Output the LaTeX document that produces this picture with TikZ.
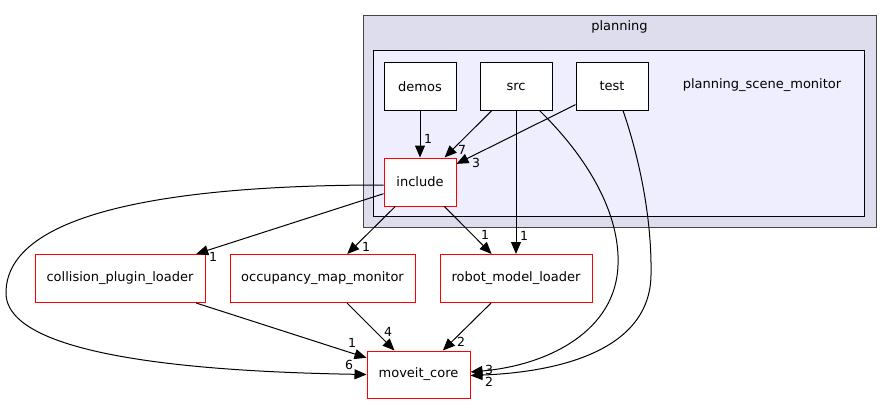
\documentclass[tikz,border=0pt]{standalone}
\usepackage{fontspec}
\setmainfont{DejaVu Sans}
\usetikzlibrary{arrows.meta,calc}
\definecolor{outerfill}{HTML}{DDDDEE}
\definecolor{outerline}{HTML}{444444}
\definecolor{innerfill}{HTML}{EEEEFF}
\begin{document}
\begin{tikzpicture}[x=1pt,y=-1pt,
  every node/.style={font=\fontsize{13}{15}\selectfont},
  cluster/.style={inner sep=0pt, line width=1pt},
  box/.style={draw=black, fill=white, minimum width=72pt, minimum height=47pt, inner sep=0pt, line width=1pt},
  redbox/.style={draw=red, fill=white, minimum height=48pt, inner sep=0pt, line width=1pt},
  edge/.style={-{Triangle[length=12pt,width=10pt]}, line width=1pt},
  lbl/.style={font=\fontsize{12.5}{14}\selectfont, inner sep=0pt},
  txt/.style={inner sep=0pt}]
\useasboundingbox (0,0) rectangle (891,404);

% clusters
\node[cluster, draw=outerline, fill=outerfill, minimum width=513pt, minimum height=211pt] (planning) at (619.5,121.5) {};
\node[txt] (planninglbl) at (619.5,27) {planning};
\node[cluster, draw=black, fill=innerfill, minimum width=491pt, minimum height=165pt] (psm) at (618.5,133.5) {};
\node[txt] (psmlbl) at (762,85) {planning\_scene\_monitor};

% nodes
\node[box] (demos) at (420,86.5) {demos};
\node[box] (src) at (516,86.5) {src};
\node[box] (test) at (612,86.5) {test};
\node[redbox, minimum width=72pt] (include) at (420,182) {include};
\node[redbox, minimum width=170pt] (collision) at (120,278.5) {collision\_plugin\_loader};
\node[redbox, minimum width=185pt] (occupancy) at (322.5,278.5) {occupancy\_map\_monitor};
\node[redbox, minimum width=152pt] (robot) at (516,278.5) {robot\_model\_loader};
\node[redbox, minimum width=103pt, minimum height=47pt] (moveit) at (418.5,374.5) {moveit\_core};

% straight edges
\draw[edge] (demos) -- (include);
\draw[edge] (src) -- (include);
\draw[edge] (test) -- (include);
\draw[edge] (src) -- (robot);
\draw[edge] (include) -- (collision);
\draw[edge] (include) -- (occupancy);
\draw[edge] (include) -- (robot);
\draw[edge] (collision) -- (moveit);
\draw[edge] (occupancy) -- (moveit);
\draw[edge] (robot) -- (moveit);

% curved edges
\draw[edge] ($(include.west)+(0,3)$) .. controls (180,185) and (6,210) .. (6,293)
  .. controls (6,360) and (220,372) .. (moveit.west);
\draw[edge] ($(src.south east)+(-13,0)$) .. controls (590,160) and (620,215) .. (618,265)
  .. controls (616,330) and (550,365) .. ($(moveit.east)+(0,-2.5)$);
\draw[edge] ($(test.south)+(11,0)$) .. controls (640,160) and (652,220) .. (651,275)
  .. controls (650,350) and (560,372) .. ($(moveit.east)+(0,1)$);

% edge labels
\node[lbl] (l1) at (428,139) {1};
\node[lbl] (l2) at (462,150) {7};
\node[lbl] (l3) at (476,163) {3};
\node[lbl] (l4) at (213,257) {1};
\node[lbl] (l5) at (366,247) {1};
\node[lbl] (l6) at (485,235) {1};
\node[lbl] (l7) at (524,236) {1};
\node[lbl] (l8) at (352,343) {1};
\node[lbl] (l9) at (388,332) {4};
\node[lbl] (l10) at (461,342) {2};
\node[lbl] (l11) at (349,365) {6};
\node[lbl] (l12) at (489,370) {3};
\node[lbl] (l13) at (489,381.5) {2};
\end{tikzpicture}
\end{document}
